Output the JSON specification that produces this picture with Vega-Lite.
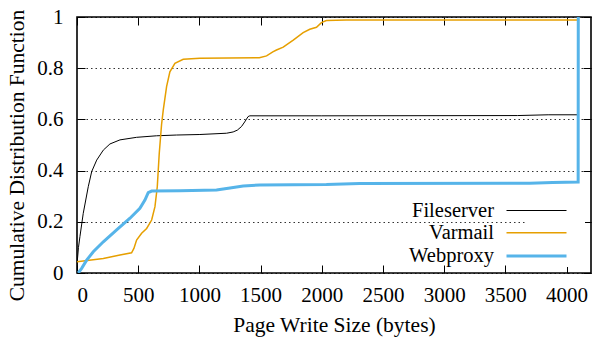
{
  "$schema": "https://vega.github.io/schema/vega-lite/v6.json",
  "autosize": {"type": "none"},
  "padding": {"left": 77, "top": 17, "right": 3, "bottom": 64},
  "width": 514,
  "height": 256,
  "background": "white",
  "config": {
    "font": "Liberation Serif",
    "view": {"stroke": "black", "strokeWidth": 1.6},
    "axis": {"labelFont": "Liberation Serif", "titleFont": "Liberation Serif", "labelFontSize": 21, "titleFontSize": 21.5, "titleFontWeight": "normal", "labelColor": "black", "titleColor": "black", "domain": false, "tickColor": "black", "tickWidth": 1, "tickSize": -8},
    "legend": {"labelFont": "Liberation Serif", "labelFontSize": 20.5, "labelColor": "black"}
  },
  "data": {"values": [
    {"s": "Fileserver", "x": 0, "y": 0},
    {"s": "Fileserver", "x": 3, "y": 0.05},
    {"s": "Fileserver", "x": 12, "y": 0.1},
    {"s": "Fileserver", "x": 24, "y": 0.142},
    {"s": "Fileserver", "x": 51, "y": 0.233},
    {"s": "Fileserver", "x": 92, "y": 0.337},
    {"s": "Fileserver", "x": 120, "y": 0.396},
    {"s": "Fileserver", "x": 161, "y": 0.441},
    {"s": "Fileserver", "x": 215, "y": 0.48},
    {"s": "Fileserver", "x": 269, "y": 0.504},
    {"s": "Fileserver", "x": 351, "y": 0.52},
    {"s": "Fileserver", "x": 487, "y": 0.53},
    {"s": "Fileserver", "x": 650, "y": 0.536},
    {"s": "Fileserver", "x": 814, "y": 0.539},
    {"s": "Fileserver", "x": 1004, "y": 0.541},
    {"s": "Fileserver", "x": 1222, "y": 0.546},
    {"s": "Fileserver", "x": 1276, "y": 0.551},
    {"s": "Fileserver", "x": 1310, "y": 0.558},
    {"s": "Fileserver", "x": 1344, "y": 0.572},
    {"s": "Fileserver", "x": 1370, "y": 0.59},
    {"s": "Fileserver", "x": 1398, "y": 0.611},
    {"s": "Fileserver", "x": 1412, "y": 0.614},
    {"s": "Fileserver", "x": 2000, "y": 0.614},
    {"s": "Fileserver", "x": 3600, "y": 0.615},
    {"s": "Fileserver", "x": 3850, "y": 0.618},
    {"s": "Fileserver", "x": 4095, "y": 0.618},
    {"s": "Fileserver", "x": 4096, "y": 1},
    {"s": "Varmail", "x": 0, "y": 0.044},
    {"s": "Varmail", "x": 215, "y": 0.057},
    {"s": "Varmail", "x": 351, "y": 0.07},
    {"s": "Varmail", "x": 446, "y": 0.079},
    {"s": "Varmail", "x": 465, "y": 0.096},
    {"s": "Varmail", "x": 487, "y": 0.129},
    {"s": "Varmail", "x": 528, "y": 0.155},
    {"s": "Varmail", "x": 569, "y": 0.174},
    {"s": "Varmail", "x": 610, "y": 0.207},
    {"s": "Varmail", "x": 637, "y": 0.259},
    {"s": "Varmail", "x": 656, "y": 0.337},
    {"s": "Varmail", "x": 672, "y": 0.467},
    {"s": "Varmail", "x": 691, "y": 0.58},
    {"s": "Varmail", "x": 705, "y": 0.637},
    {"s": "Varmail", "x": 732, "y": 0.728},
    {"s": "Varmail", "x": 759, "y": 0.786},
    {"s": "Varmail", "x": 800, "y": 0.819},
    {"s": "Varmail", "x": 868, "y": 0.835},
    {"s": "Varmail", "x": 1004, "y": 0.839},
    {"s": "Varmail", "x": 1490, "y": 0.841},
    {"s": "Varmail", "x": 1549, "y": 0.848},
    {"s": "Varmail", "x": 1600, "y": 0.864},
    {"s": "Varmail", "x": 1630, "y": 0.871},
    {"s": "Varmail", "x": 1685, "y": 0.882},
    {"s": "Varmail", "x": 1767, "y": 0.91},
    {"s": "Varmail", "x": 1848, "y": 0.939},
    {"s": "Varmail", "x": 1902, "y": 0.952},
    {"s": "Varmail", "x": 1957, "y": 0.96},
    {"s": "Varmail", "x": 1997, "y": 0.978},
    {"s": "Varmail", "x": 2038, "y": 0.986},
    {"s": "Varmail", "x": 2200, "y": 0.988},
    {"s": "Varmail", "x": 4095, "y": 0.988},
    {"s": "Varmail", "x": 4096, "y": 1},
    {"s": "Webproxy", "x": 10, "y": 0},
    {"s": "Webproxy", "x": 38, "y": 0.018},
    {"s": "Webproxy", "x": 79, "y": 0.05},
    {"s": "Webproxy", "x": 133, "y": 0.083},
    {"s": "Webproxy", "x": 215, "y": 0.122},
    {"s": "Webproxy", "x": 324, "y": 0.168},
    {"s": "Webproxy", "x": 433, "y": 0.214},
    {"s": "Webproxy", "x": 514, "y": 0.253},
    {"s": "Webproxy", "x": 555, "y": 0.285},
    {"s": "Webproxy", "x": 582, "y": 0.314},
    {"s": "Webproxy", "x": 610, "y": 0.32},
    {"s": "Webproxy", "x": 841, "y": 0.321},
    {"s": "Webproxy", "x": 1140, "y": 0.324},
    {"s": "Webproxy", "x": 1250, "y": 0.332},
    {"s": "Webproxy", "x": 1358, "y": 0.34},
    {"s": "Webproxy", "x": 1494, "y": 0.344},
    {"s": "Webproxy", "x": 2038, "y": 0.346},
    {"s": "Webproxy", "x": 2310, "y": 0.35},
    {"s": "Webproxy", "x": 3700, "y": 0.351},
    {"s": "Webproxy", "x": 3886, "y": 0.354},
    {"s": "Webproxy", "x": 4095, "y": 0.355},
    {"s": "Webproxy", "x": 4096, "y": 1}
  ]},
  "layer": [
    {
      "mark": {"type": "line", "clip": true},
      "encoding": {
        "x": {"field": "x", "type": "quantitative", "scale": {"domain": [0, 4200], "nice": false, "zero": false},
              "axis": {"orient": "bottom", "title": "Page Write Size (bytes)", "values": [0,500,1000,1500,2000,2500,3000,3500,4000], "format": "d", "grid": false, "labelFont": "Liberation Serif", "labelFontSize": 21, "labelPadding": 19, "titlePadding": 9}},
        "y": {"field": "y", "type": "quantitative", "scale": {"domain": [0, 1], "nice": false},
              "axis": {"orient": "left", "title": "Cumulative Distribution Function", "titleY": 138, "values": [0,0.2,0.4,0.6,0.8,1], "format": "~g", "grid": true, "gridColor": "black", "gridDash": [1.5, 3], "gridWidth": 1, "gridOpacity": 0.8, "labelFont": "Liberation Serif", "labelFontSize": 21, "labelPadding": 22, "titlePadding": 8}},
        "color": {"field": "s", "type": "nominal", "scale": {"domain": ["Fileserver", "Varmail", "Webproxy"], "range": ["#000000", "#E69F00", "#56B4E9"]},
                  "legend": {"title": null, "orient": "none", "legendX": 448, "legendY": 183, "symbolType": "M-17.3,0M-3,0H3M4.2,0", "symbolSize": 400, "labelAlign": "right", "labelOffset": -54, "fillColor": "white", "padding": 0, "rowPadding": 0.8}},
        "strokeWidth": {"field": "s", "type": "nominal", "scale": {"type": "ordinal", "domain": ["Fileserver", "Varmail", "Webproxy"], "range": [1, 1.5, 3]}, "legend": null}
      }
    },
    {
      "mark": {"type": "line", "strokeOpacity": 0},
      "encoding": {
        "x": {"field": "x", "type": "quantitative", "axis": {"orient": "top", "title": null, "labels": false, "values": [0,500,1000,1500,2000,2500,3000,3500,4000], "grid": false}},
        "y": {"field": "y", "type": "quantitative", "axis": {"orient": "right", "title": null, "labels": false, "values": [0,0.2,0.4,0.6,0.8,1], "grid": false}},
        "detail": {"field": "s", "type": "nominal"}
      }
    }
  ],
  "resolve": {"axis": {"x": "independent", "y": "independent"}}
}
